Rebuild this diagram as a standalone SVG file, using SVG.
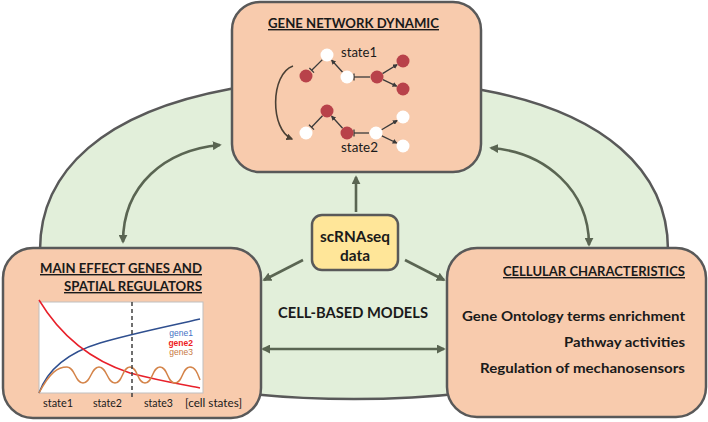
<svg xmlns="http://www.w3.org/2000/svg" width="708" height="422" viewBox="0 0 708 422">
<style>
.box{fill:#f8cbad;stroke:#595959;stroke-width:2.5}
.t{font-family:Lato,"Open Sans","Liberation Sans",sans-serif;fill:#1a1a1a}
.b{font-weight:bold}
.u{text-decoration:underline}
.conn{fill:none;stroke:#5a6552;stroke-width:2.6}
.net{fill:none;stroke:#3a3a3a;stroke-width:1.3}
.wn{fill:#ffffff}
.rn{fill:#b8424a}
.lg{font-family:"Liberation Sans",Arial,sans-serif;font-size:8.5px;text-anchor:end}
</style>
<defs>
<marker id="ah" viewBox="0 0 10 10" refX="8" refY="5" markerWidth="9" markerHeight="9" markerUnits="userSpaceOnUse" orient="auto-start-reverse">
<path d="M0,0 L10,5 L0,10 z" fill="#5a6552"/>
</marker>
<marker id="sa" viewBox="0 0 10 10" refX="8" refY="5" markerWidth="5" markerHeight="5" markerUnits="userSpaceOnUse" orient="auto">
<path d="M0,0 L10,5 L0,10 z" fill="#3a3a3a"/>
</marker>
<marker id="ca" viewBox="0 0 10 10" refX="8" refY="5" markerWidth="7" markerHeight="7" markerUnits="userSpaceOnUse" orient="auto">
<path d="M0,0 L10,5 L0,10 z" fill="#4a4035"/>
</marker>
</defs>
<rect width="708" height="422" fill="#ffffff"/>
<g id="cell-based-models">
<path d="M230,89 C105,112 40,170 40,250 L40,300 C40,365 200,399 354,399 C508,399 668,365 668,300 L668,250 C668,170 603,112 482,90 C420,78 290,78 230,89 Z" fill="#e2efda" stroke="#595959" stroke-width="2.5"/>
<text class="t b" x="353" y="318" font-size="15.5" text-anchor="middle" textLength="150" lengthAdjust="spacingAndGlyphs">CELL-BASED MODELS</text>
</g>
<g id="gene-network-dynamic">
<rect class="box" x="232" y="2" width="249" height="170" rx="28"/>
<text class="t b u" x="353.5" y="28" font-size="14" text-anchor="middle" textLength="171" lengthAdjust="spacingAndGlyphs">GENE NETWORK DYNAMIC</text>
<path d="M293,66 C270,74 270,130 292,139" fill="none" stroke="#4a4035" stroke-width="1.6" marker-end="url(#ca)"/>
<line class="net" x1="322.4" y1="59.6" x2="311.7" y2="70.3"/>
<line class="net" x1="309.4" y1="68" x2="314" y2="72.6"/>
<line class="net" x1="342.6" y1="72.2" x2="331.7" y2="60.2" marker-end="url(#sa)"/>
<line class="net" x1="370" y1="77" x2="354" y2="77"/>
<line class="net" x1="354" y1="73.5" x2="354" y2="80.5"/>
<line class="net" x1="382.5" y1="73.6" x2="397" y2="64.7" marker-end="url(#sa)"/>
<line class="net" x1="382.9" y1="79.7" x2="396.6" y2="86.1" marker-end="url(#sa)"/>
<line class="net" x1="322.5" y1="115.7" x2="311.5" y2="127.2"/>
<line class="net" x1="309" y1="124.8" x2="314" y2="129.6"/>
<line class="net" x1="342.6" y1="128.2" x2="331.7" y2="116.2" marker-end="url(#sa)"/>
<line class="net" x1="369" y1="133" x2="354" y2="133"/>
<line class="net" x1="354" y1="129.5" x2="354" y2="136.5"/>
<line class="net" x1="381.6" y1="129.7" x2="397" y2="120.6" marker-end="url(#sa)"/>
<line class="net" x1="381.9" y1="135.8" x2="396.7" y2="143" marker-end="url(#sa)"/>
<circle class="wn" cx="327" cy="55" r="6.5"/>
<circle class="wn" cx="347" cy="77" r="6.5"/>
<circle class="rn" cx="306" cy="76" r="6.5"/>
<circle class="rn" cx="377" cy="77" r="6.5"/>
<circle class="rn" cx="403" cy="61" r="6.5"/>
<circle class="rn" cx="403" cy="89" r="6.5"/>
<circle class="rn" cx="327" cy="111" r="6.5"/>
<circle class="wn" cx="306" cy="133" r="6.5"/>
<circle class="rn" cx="347" cy="133" r="6.5"/>
<circle class="wn" cx="376" cy="133" r="6.5"/>
<circle class="wn" cx="403" cy="117" r="6.5"/>
<circle class="wn" cx="403" cy="146" r="6.5"/>
<text class="t" x="341" y="57" font-size="13" textLength="36" lengthAdjust="spacingAndGlyphs">state1</text>
<text class="t" x="341" y="152" font-size="13" textLength="37" lengthAdjust="spacingAndGlyphs">state2</text>
</g>
<g id="main-effect-genes">
<rect class="box" x="3" y="248" width="258" height="170" rx="30"/>
<text class="t b u" x="202" y="273" font-size="14" text-anchor="end" textLength="162" lengthAdjust="spacingAndGlyphs">MAIN EFFECT GENES AND</text>
<text class="t b u" x="202" y="291" font-size="14" text-anchor="end" textLength="138" lengthAdjust="spacingAndGlyphs">SPATIAL REGULATORS</text>
<rect x="39" y="302" width="164" height="91" fill="#ffffff" stroke="#bfbfbf" stroke-width="1"/>
<path d="M39,393 C48,368 70,352 100,343 C130,334 165,327 200,319" fill="none" stroke="#2f4f8f" stroke-width="1.5"/>
<path d="M39,300 C60,335 90,360 130,373 C160,381 185,385 200,388" fill="none" stroke="#e8202a" stroke-width="1.5"/>
<path d="M39,393 C50,372 58,367 67,367 C75,367 75,383 83,383 C91,383 91,367 99,367 C107,367 107,383 115,383 C123,383 122,367 130,367 C138,367 137,383 145,383 C153,383 152,367 160,367 C168,367 167,383 175,383 C183,383 182,367 190,367 C196,367 198,375 200,380" fill="none" stroke="#d4844a" stroke-width="1.5"/>
<line x1="132" y1="302" x2="132" y2="400" stroke="#404040" stroke-width="1.5" stroke-dasharray="4,3"/>
<text class="lg" x="193" y="336" style="fill:#4472c4">gene1</text>
<text class="lg" x="193" y="345.5" font-weight="bold" style="fill:#ee1c25">gene2</text>
<text class="lg" x="193" y="355" style="fill:#c8793f">gene3</text>
<text class="t" x="43" y="407" font-size="12" textLength="30" lengthAdjust="spacingAndGlyphs">state1</text>
<text class="t" x="93" y="407" font-size="12" textLength="29" lengthAdjust="spacingAndGlyphs">state2</text>
<text class="t" x="144" y="407" font-size="12" textLength="29" lengthAdjust="spacingAndGlyphs">state3</text>
<text class="t" x="185" y="407" font-size="12" textLength="57" lengthAdjust="spacingAndGlyphs">[cell states]</text>
</g>
<g id="cellular-characteristics">
<rect class="box" x="447" y="248" width="259" height="169" rx="30"/>
<text class="t b u" x="685" y="276" font-size="14" text-anchor="end" textLength="182" lengthAdjust="spacingAndGlyphs">CELLULAR CHARACTERISTICS</text>
<text class="t b" x="685" y="321" font-size="14" text-anchor="end" textLength="223" lengthAdjust="spacingAndGlyphs">Gene Ontology terms enrichment</text>
<text class="t b" x="685" y="347" font-size="14" text-anchor="end" textLength="121" lengthAdjust="spacingAndGlyphs">Pathway activities</text>
<text class="t b" x="685" y="373" font-size="14" text-anchor="end" textLength="205" lengthAdjust="spacingAndGlyphs">Regulation of mechanosensors</text>
</g>
<g id="scrnaseq-data">
<rect x="312" y="215" width="86" height="55" rx="10" fill="#ffe699" stroke="#595959" stroke-width="2.5"/>
<text class="t b" x="355" y="242" font-size="16" text-anchor="middle" textLength="70" lengthAdjust="spacingAndGlyphs">scRNAseq</text>
<text class="t b" x="355" y="261" font-size="16" text-anchor="middle" textLength="30" lengthAdjust="spacingAndGlyphs">data</text>
</g>
<g id="connectors">
<line class="conn" x1="356" y1="212" x2="356" y2="177" marker-end="url(#ah)"/>
<line class="conn" x1="303" y1="260" x2="264" y2="280" marker-end="url(#ah)"/>
<line class="conn" x1="405" y1="260" x2="444" y2="280" marker-end="url(#ah)"/>
<line class="conn" x1="263" y1="349" x2="444" y2="349" marker-start="url(#ah)" marker-end="url(#ah)"/>
<path class="conn" d="M123,242 C123,185 165,150 220,145" marker-start="url(#ah)" marker-end="url(#ah)"/>
<path class="conn" d="M491,148 C545,152 589,190 589,245" marker-start="url(#ah)" marker-end="url(#ah)"/>
</g>
</svg>
